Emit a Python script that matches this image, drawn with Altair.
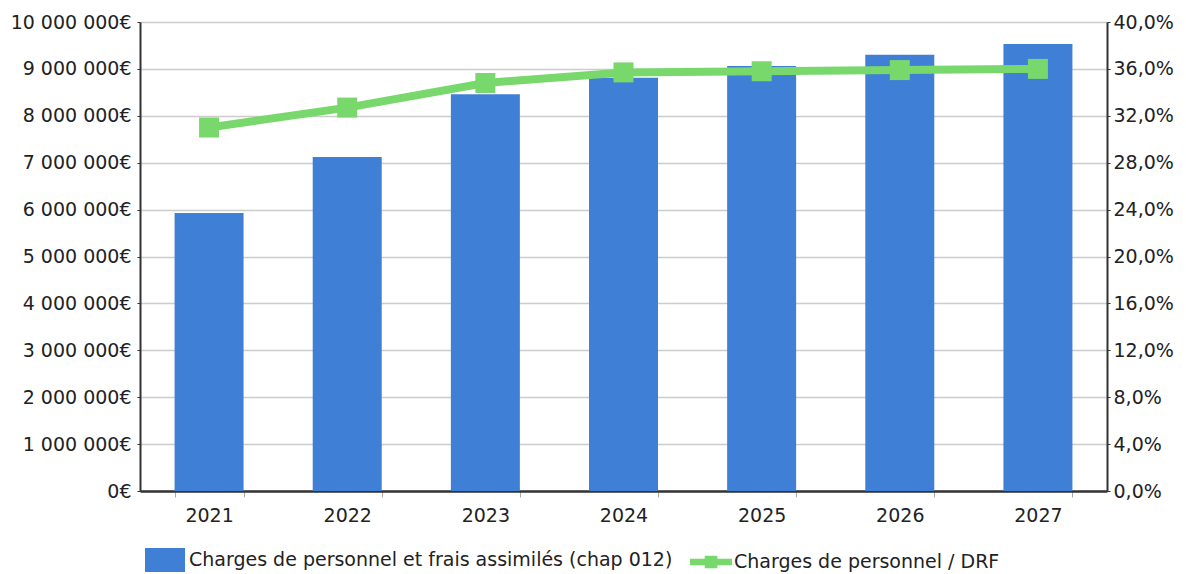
import altair as alt
import pandas as pd

# Annual data
annees = ["2021", "2022", "2023", "2024", "2025", "2026", "2027"]
charges_012 = [5930000, 7120000, 8460000, 8810000, 9060000, 9300000, 9530000]
ratio_drf = [31.0, 32.7, 34.8, 35.7, 35.8, 35.9, 36.0]

serie_barres = "Charges de personnel et frais assimilés (chap 012)"
serie_ligne = "Charges de personnel / DRF"

bleu = "#3f7fd6"
vert = "#78d86b"

df = pd.DataFrame({
    "annee": annees,
    "charges": charges_012,
    "ratio": ratio_drf,
    "s_bar": serie_barres,
    "s_line": serie_ligne,
})

FONT = "DejaVu Sans"
FS = 19
TXT = "#222222"

x_enc = alt.X(
    "annee:N",
    title=None,
    scale=alt.Scale(paddingInner=0.5, paddingOuter=0.25),
    axis=alt.Axis(
        labelAngle=0, labelFontSize=FS, labelColor=TXT, labelFont=FONT,
        labelPadding=9, tickBand="extent", tickColor="#aaaaaa", tickSize=6,
        domainColor="#333", domainWidth=2.5,
    ),
)

bars = alt.Chart(df).mark_bar(size=69).encode(
    x=x_enc,
    y=alt.Y(
        "charges:Q",
        title=None,
        scale=alt.Scale(domain=[0, 10000000], nice=False),
        axis=alt.Axis(
            values=list(range(0, 10000001, 1000000)),
            labelExpr="replace(format(datum.value, ','), regexp(',', 'g'), ' ') + '€'",
            labelFontSize=FS, labelColor=TXT, labelFont=FONT, labelPadding=6,
            gridColor="#cccccc", gridWidth=1.5, domainColor="#333", domainWidth=2,
            tickSize=3, tickColor="#333",
        ),
    ),
    color=alt.Color(
        "s_bar:N",
        scale=alt.Scale(domain=[serie_barres], range=[bleu]),
        legend=alt.Legend(
            title=None, orient="none", legendX=5, legendY=518,
            symbolType="M-1,-0.6H1V0.6H-1Z", symbolSize=1600,
            symbolStrokeWidth=0, symbolFillColor=bleu,
            labelFontSize=FS, labelColor=TXT, labelFont=FONT, labelOffset=4,
            labelLimit=700,
        ),
    ),
)

line = alt.Chart(df).mark_line(
    strokeWidth=8,
    point=alt.OverlayMarkDef(shape="square", size=400, filled=True, color=vert),
).encode(
    x=alt.X("annee:N"),
    y=alt.Y(
        "ratio:Q",
        title=None,
        scale=alt.Scale(domain=[0, 40], nice=False),
        axis=alt.Axis(
            orient="right", grid=False,
            values=list(range(0, 41, 4)),
            labelExpr="replace(format(datum.value, '.1f'), '.', ',') + '%'",
            labelFontSize=FS, labelColor=TXT, labelFont=FONT, labelPadding=3,
            domainColor="#333", domainWidth=2, tickSize=3, tickColor="#333",
        ),
    ),
    color=alt.Color(
        "s_line:N",
        scale=alt.Scale(domain=[serie_ligne], range=[vert]),
        legend=alt.Legend(
            title=None, orient="none", legendX=550, legendY=519,
            symbolType="M-1,-0.15H-0.3V-0.3H0.3V-0.15H1V0.15H0.3V0.3H-0.3V0.15H-1Z",
            symbolSize=1764, symbolStrokeWidth=0, symbolFillColor=vert,
            labelFontSize=FS, labelColor=TXT, labelFont=FONT, labelOffset=2,
            labelLimit=700,
        ),
    ),
)

chart = alt.layer(bars, line).resolve_scale(
    y="independent", color="independent"
).resolve_legend(color="independent").properties(
    width=967,
    height=469,
    autosize=alt.AutoSizeParams(type="none"),
    padding={"left": 140, "top": 22, "right": 79, "bottom": 83},
).configure_view(stroke=None).configure(background="white")

chart.save("out.html", embed_options={"renderer": "svg", "actions": False})
